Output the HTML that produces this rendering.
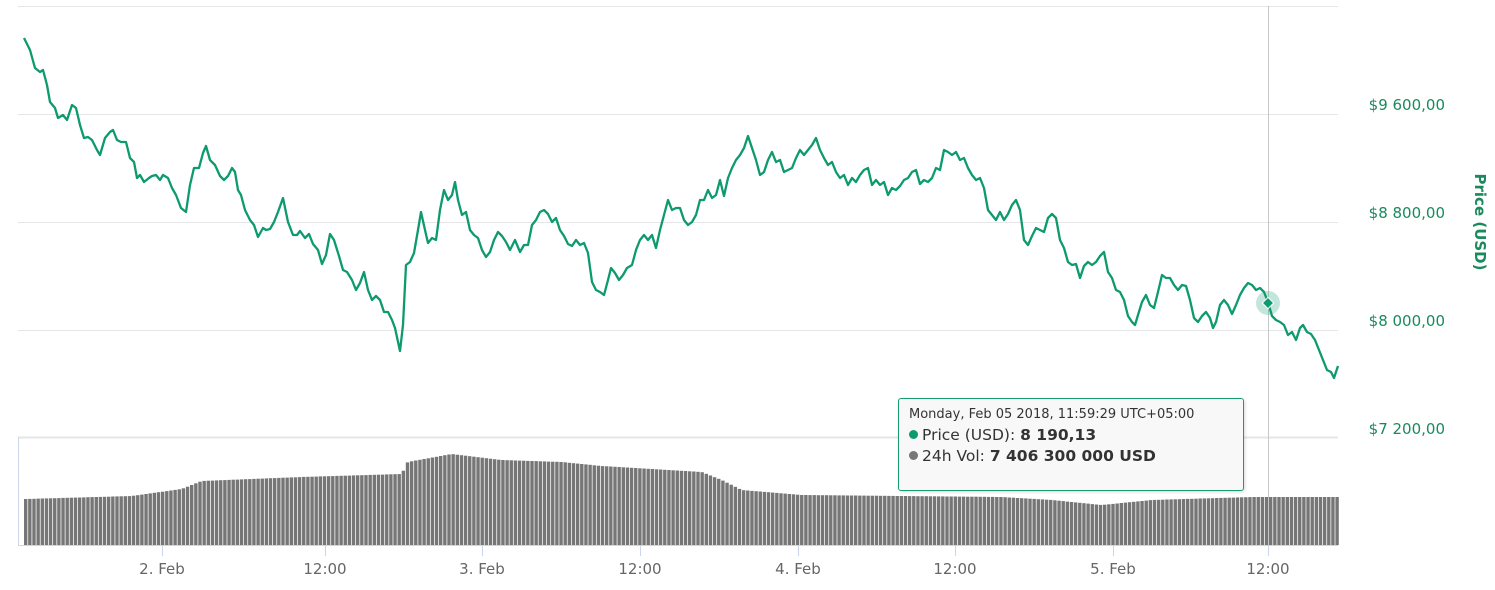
<!DOCTYPE html>
<html><head><meta charset="utf-8"><style>
body{margin:0;background:#fff;width:1495px;height:590px;overflow:hidden;font-family:"Liberation Sans","DejaVu Sans",sans-serif}
svg{position:absolute;left:0;top:0}
.tt{position:absolute;left:898px;top:398px;width:346px;height:93px;box-sizing:border-box;border:1.5px solid #1a9c72;border-radius:3px;background:rgba(248,248,248,0.95);font-family:"DejaVu Sans",sans-serif;color:#333;padding:8px 0 0 10px;box-shadow:1px 1px 3px rgba(0,0,0,.15)}
.tt .h{font-size:13px;margin-bottom:3px}
.tt .r{font-size:15.5px;line-height:21px}
.d{display:inline-block;width:9px;height:9px;border-radius:50%;margin-right:4px;vertical-align:1px}
</style></head><body>
<svg id="s" width="1495" height="590" xmlns="http://www.w3.org/2000/svg">
<g stroke="#e6e6e6" stroke-width="1">
<line x1="18" x2="1338" y1="6.5" y2="6.5"/><line x1="18" x2="1338" y1="114.5" y2="114.5"/>
<line x1="18" x2="1338" y1="222.5" y2="222.5"/><line x1="18" x2="1338" y1="330.5" y2="330.5"/>
<line x1="18" x2="1338" y1="437.5" y2="437.5" stroke-width="2"/>
</g>
<g id="bars" fill="#767676"></g>
<line x1="18.5" x2="18.5" y1="437" y2="546" stroke="#ccd6eb"/>
<line x1="18" x2="1338" y1="545.5" y2="545.5" stroke="#ccd6eb"/>
<g stroke="#ccd6eb"><line x1="162.5" x2="162.5" y1="546" y2="556"/><line x1="325.5" x2="325.5" y1="546" y2="556"/><line x1="482.5" x2="482.5" y1="546" y2="556"/><line x1="640.5" x2="640.5" y1="546" y2="556"/><line x1="798.5" x2="798.5" y1="546" y2="556"/><line x1="955.5" x2="955.5" y1="546" y2="556"/><line x1="1113.5" x2="1113.5" y1="546" y2="556"/><line x1="1268.5" x2="1268.5" y1="546" y2="556"/></g>
<line x1="1268.5" x2="1268.5" y1="6" y2="546" stroke="#c8c8c8"/>
<polyline id="pl" fill="none" stroke="#0d9a6e" stroke-width="2.3" stroke-linejoin="round"/>
<circle cx="1268" cy="303" r="12" fill="#0d9a6e" opacity="0.25"/>
<rect x="1264" y="299" width="8" height="8" fill="#0d9a6e" stroke="#fff" transform="rotate(45 1268 303)"/>
<g font-size="15" fill="#666" text-anchor="middle" font-family="DejaVu Sans,sans-serif">
<text x="162" y="574">2. Feb</text><text x="325" y="574">12:00</text><text x="482" y="574">3. Feb</text><text x="640" y="574">12:00</text><text x="798" y="574">4. Feb</text><text x="955" y="574">12:00</text><text x="1113" y="574">5. Feb</text><text x="1268" y="574">12:00</text>
</g>
<g font-size="15" fill="#1a8a5e" text-anchor="end" font-family="DejaVu Sans,sans-serif">
<text x="1445" y="110">$9 600,00</text><text x="1445" y="218">$8 800,00</text><text x="1445" y="326">$8 000,00</text><text x="1445" y="434">$7 200,00</text>
</g>
<text x="0" y="0" transform="translate(1475,222) rotate(90)" text-anchor="middle" font-size="15" font-weight="bold" fill="#1a8a5e" font-family="DejaVu Sans,sans-serif">Price (USD)</text>
</svg>
<div class="tt"><div class="h">Monday, Feb 05 2018, 11:59:29 UTC+05:00</div>
<div class="r"><span class="d" style="background:#0d9a6e"></span>Price (USD): <b>8 190,13</b></div>
<div class="r"><span class="d" style="background:#777"></span>24h Vol: <b>7 406 300 000 USD</b></div></div>
<script>
var p="24,38 30,50 35,68 40,72 43,70 47,85 50,102 55,108 58,118 63,115 67,120 72,105 76,108 80,125 84,138 88,137 92,140 97,150 100,155 105,138 110,132 113,130 117,140 121,142 126,142 130,158 134,162 137,178 140,175 144,182 149,178 152,176 156,175 160,180 163,175 168,178 172,188 176,195 181,208 186,212 190,185 194,168 199,168 203,153 206,146 210,160 215,165 220,176 224,180 228,176 232,168 235,172 238,190 241,195 245,210 250,220 254,225 258,237 263,228 266,230 270,229 274,222 278,212 283,198 288,222 293,235 297,235 300,231 305,238 309,234 313,244 318,250 322,264 326,255 330,234 334,240 339,256 343,270 347,272 352,280 356,290 360,283 364,272 368,290 372,300 376,296 380,300 384,312 388,312 392,320 395,328 400,351 403,325 406,265 410,262 414,253 418,230 421,212 425,230 428,243 432,238 436,240 440,210 444,190 448,200 452,195 455,182 458,200 462,215 466,212 470,230 474,235 478,238 482,250 486,257 490,252 494,240 498,232 502,236 506,242 510,250 515,240 520,252 524,245 528,245 532,225 536,220 540,212 544,210 548,214 552,222 556,218 560,230 564,236 568,244 572,246 576,240 580,245 584,243 588,253 592,282 596,290 600,292 604,295 608,280 611,268 615,273 619,280 623,275 627,268 632,265 636,250 640,240 644,235 648,240 652,235 656,248 660,230 664,215 668,200 672,210 676,208 680,208 684,220 688,225 692,222 696,215 700,200 704,200 708,190 712,198 716,195 720,180 724,196 728,178 732,168 736,160 740,155 744,148 748,136 752,148 756,160 760,175 764,172 768,160 772,152 776,162 780,160 784,172 788,170 792,168 796,158 800,150 804,155 808,150 812,145 816,138 820,150 824,158 828,165 832,162 836,172 840,178 844,175 848,185 852,178 856,182 860,175 864,170 868,168 872,185 876,180 880,185 884,182 888,195 892,188 896,190 900,186 904,180 908,178 912,172 916,170 920,184 924,180 928,182 932,178 936,168 940,170 944,150 948,152 952,155 956,152 960,160 964,158 968,168 972,175 976,180 980,178 984,188 988,210 992,215 996,220 1000,212 1004,220 1008,214 1012,205 1016,200 1020,210 1024,240 1028,245 1032,236 1036,228 1040,230 1044,232 1048,218 1052,214 1056,218 1060,240 1064,248 1068,262 1072,265 1076,264 1080,278 1084,266 1088,262 1092,265 1096,262 1100,256 1104,252 1108,272 1112,278 1116,290 1120,292 1124,300 1128,316 1132,322 1135,325 1138,315 1142,302 1146,295 1150,305 1154,308 1158,292 1162,275 1166,278 1170,278 1174,285 1178,290 1182,285 1186,286 1190,300 1194,318 1198,322 1202,316 1206,312 1210,318 1213,328 1216,322 1220,305 1224,300 1228,305 1232,314 1236,305 1240,295 1244,288 1248,283 1252,285 1256,290 1260,288 1264,292 1268,302 1272,316 1276,320 1280,322 1284,325 1288,335 1292,332 1296,340 1300,328 1303,325 1307,332 1311,334 1315,340 1319,350 1323,360 1327,370 1331,372 1334,378 1338,366";
document.getElementById('pl').setAttribute('points',p);
var k=[[24,499],[130,496],[180,489],[200,481],[300,477],[400,474],[406,462],[450,454],[500,460],[560,462],[600,466],[700,472],[720,480],[740,490],[800,495],[1000,497],[1050,500],[1100,505],[1150,500],[1250,497],[1338,497]];
function f(x){for(var i=0;i<k.length-1;i++){if(x<=k[i+1][0]){var t=(x-k[i][0])/(k[i+1][0]-k[i][0]);return k[i][1]+t*(k[i+1][1]-k[i][1]);}}return 497;}
var g=document.getElementById('bars'),h='';
for(var x=24;x<1338;x+=4.15){var y=f(x);h+='<rect x="'+x.toFixed(2)+'" y="'+y.toFixed(1)+'" width="3.4" height="'+(545-y).toFixed(1)+'"/>';}
g.innerHTML=h;
</script>
</body></html>
